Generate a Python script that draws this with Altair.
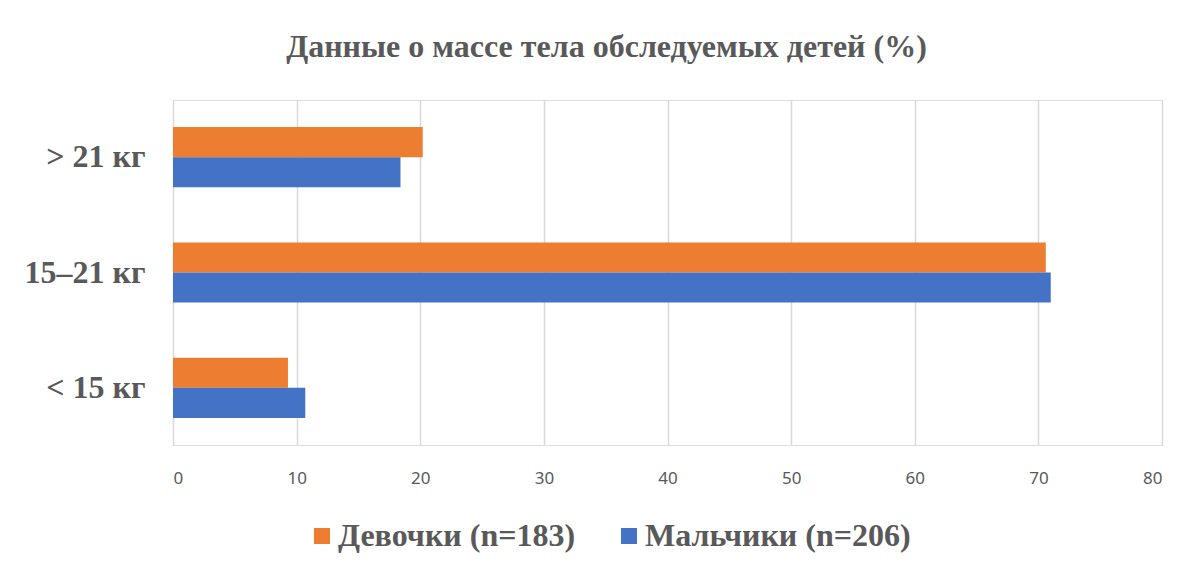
import altair as alt
import pandas as pd

categories = ["> 21 кг", "15–21 кг", "< 15 кг"]
series = ["Девочки (n=183)", "Мальчики (n=206)"]
girls = [20.2, 70.6, 9.3]
boys = [18.4, 71.0, 10.7]
x_ticks = [0, 10, 20, 30, 40, 50, 60, 70, 80]
colors = ["#ED7D31", "#4472C4"]

rows = []
for c, g, b in zip(categories, girls, boys):
    rows.append({"cat": c, "series": series[0], "value": g})
    rows.append({"cat": c, "series": series[1], "value": b})
df = pd.DataFrame(rows)

GRAY = "#595959"

chart = alt.Chart(df).mark_bar().encode(
    x=alt.X("value:Q",
            scale=alt.Scale(domain=[0, 80], nice=False),
            axis=alt.Axis(values=x_ticks, title=None, domain=False, ticks=False,
                          grid=True, gridColor="#D9D9D9", gridWidth=1.5,
                          labelFont="Noto Sans", labelFontSize=17, labelColor=GRAY,
                          labelPadding=25)),
    y=alt.Y("cat:N", sort=categories,
            scale=alt.Scale(paddingInner=0.478, paddingOuter=0.235),
            axis=alt.Axis(title=None, domain=False, ticks=False, grid=False,
                          labelFont="Liberation Serif", labelFontWeight="bold",
                          labelFontSize=32, labelColor=GRAY, labelPadding=28)),
    yOffset=alt.YOffset("series:N", sort=series),
    color=alt.Color("series:N", sort=series,
                    scale=alt.Scale(domain=series, range=colors),
                    legend=alt.Legend(title=None, orient="none", direction="horizontal",
                                      legendX=133, legendY=420,
                                      labelFont="Liberation Serif", labelFontWeight="bold",
                                      labelFontSize=32, labelColor=GRAY, labelLimit=0,
                                      symbolType="square",
                                      symbolSize=256, symbolStrokeWidth=0,
                                      symbolOpacity=1, columnPadding=37, labelOffset=0)),
).properties(
    width=989,
    height=345,
    title=alt.TitleParams("Данные о массе тела обследуемых детей (%)",
                          font="Liberation Serif", fontWeight="bold", fontSize=32,
                          color=GRAY, anchor="middle", dx=-61, offset=36),
    autosize=alt.AutoSizeParams(type="none"),
    padding={"left": 165, "top": 92, "right": 33, "bottom": 126},
).configure_view(stroke=None).configure(background="white")

chart.save("out.html", embed_options={"renderer": "svg", "actions": False})
